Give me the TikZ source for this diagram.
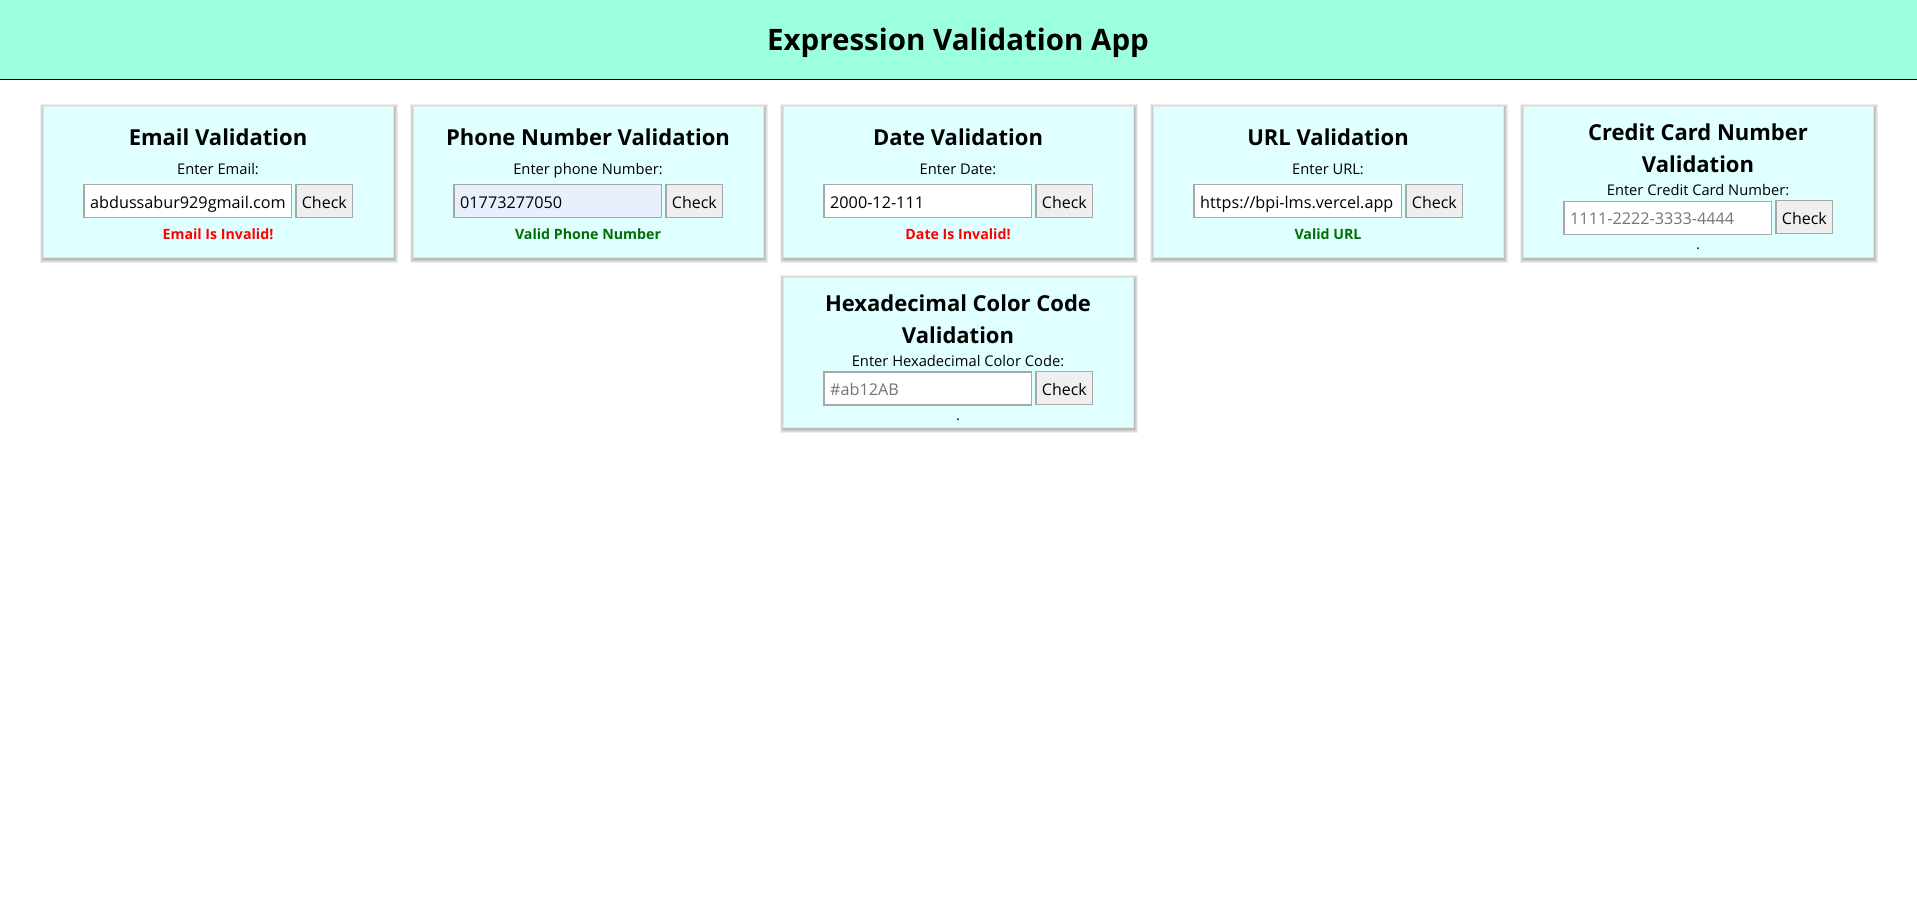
\documentclass[tikz,border=0pt]{standalone}
\usepackage{fontspec}
\setmainfont{Open Sans}
\definecolor{headbg}{RGB}{156,255,222}
\definecolor{cardbg}{RGB}{224,255,255}
\definecolor{fieldline}{RGB}{168,168,168}
\definecolor{btnbg}{RGB}{239,239,239}
\definecolor{autofill}{RGB}{232,240,254}
\definecolor{okgreen}{RGB}{0,110,0}
\definecolor{badred}{RGB}{255,0,0}
\definecolor{placeholder}{RGB}{117,117,117}
\tikzset{
  card/.style={rectangle, fill=cardbg, draw=black!10, line width=0.4pt, minimum width=350.6pt, inner sep=0pt, anchor=north},
  cardtitle/.style={anchor=base, inner sep=0pt, font=\fontsize{22}{26}\bfseries\selectfont},
  headtitle/.style={anchor=base, inner sep=0pt, font=\fontsize{29.5}{34}\bfseries\selectfont},
  fieldlabel/.style={anchor=base, inner sep=0pt, font=\fontsize{14.7}{18}\selectfont},
  inbox/.style={rectangle, fill=white, draw=fieldline, line width=1.2pt, minimum width=207.4pt, minimum height=33pt, inner sep=0pt, anchor=north west},
  intext/.style={anchor=base west, inner sep=0pt, font=\fontsize{16.2}{19}\selectfont},
  btnbox/.style={rectangle, fill=btnbg, draw=fieldline, line width=1.2pt, minimum width=56.7pt, minimum height=33pt, inner sep=0pt, text height=15pt, text depth=0pt, font=\fontsize{16}{19}\selectfont},
  result/.style={anchor=base, inner sep=0pt, font=\fontsize{14.2}{17}\bfseries\selectfont},
}
\newcommand\cardshadow[3]{%
  \foreach \s in {1,...,4}{%
    \fill[black,opacity=0.07] ({#1-175.3-\s+1},{#2-\s+2}) rectangle ({#1+175.3+\s+1},{#2+#3+\s+2});
  }%
}
\begin{document}
\begin{tikzpicture}[x=1pt,y=-1pt]
\useasboundingbox (0,0) rectangle (1917,904);
\fill[white] (0,0) rectangle (1917,904);
% header
\fill[headbg] (0,0) rectangle (1917,79.5);
\draw[black, line width=1.5pt] (0,79.5) -- (1917,79.5);
\node[headtitle] (apptitle) at (958,50.7) {Expression Validation App};

% ---------- Email card ----------
\cardshadow{218}{106}{150.7}
\node[card, minimum height=150.7pt] (emailcard) at (218,106) {};
\node[cardtitle] (emailtitle) at (218,145.5) {Email Validation};
\node[fieldlabel] (emaillabel) at (218,174.5) {Enter Email:};
\node[inbox] (emailin) at (83.3,184.3) {};
\node[intext] (emailval) at (90,208.3) {abdussabur929gmail.com};
\node[btnbox] (emailbtn) at (324.35,200.8) {Check};
\node[result, text=badred] (emailres) at (218,239.5) {Email Is Invalid!};

% ---------- Phone card ----------
\cardshadow{588}{106}{150.7}
\node[card, minimum height=150.7pt] (phonecard) at (588,106) {};
\node[cardtitle] (phonetitle) at (588,145.5) {Phone Number Validation};
\node[fieldlabel] (phonelabel) at (588,174.5) {Enter phone Number:};
\node[inbox, fill=autofill] (phonein) at (453.3,184.3) {};
\node[intext] (phoneval) at (460,208.3) {01773277050};
\node[btnbox] (phonebtn) at (694.35,200.8) {Check};
\node[result, text=okgreen] (phoneres) at (588,239.5) {Valid Phone Number};

% ---------- Date card ----------
\cardshadow{958}{106}{150.7}
\node[card, minimum height=150.7pt] (datecard) at (958,106) {};
\node[cardtitle] (datetitle) at (958,145.5) {Date Validation};
\node[fieldlabel] (datelabel) at (958,174.5) {Enter Date:};
\node[inbox] (datein) at (823.3,184.3) {};
\node[intext] (dateval) at (830,208.3) {2000-12-111};
\node[btnbox] (datebtn) at (1064.35,200.8) {Check};
\node[result, text=badred] (dateres) at (958,239.5) {Date Is Invalid!};

% ---------- URL card ----------
\cardshadow{1328}{106}{150.7}
\node[card, minimum height=150.7pt] (urlcard) at (1328,106) {};
\node[cardtitle] (urltitle) at (1328,145.5) {URL Validation};
\node[fieldlabel] (urllabel) at (1328,174.5) {Enter URL:};
\node[inbox] (urlin) at (1193.3,184.3) {};
\node[intext] (urlval) at (1200,208.3) {https://bpi-lms.vercel.app};
\node[btnbox] (urlbtn) at (1434.35,200.8) {Check};
\node[result, text=okgreen] (urlres) at (1328,239.5) {Valid URL};

% ---------- Credit card ----------
\cardshadow{1698}{106}{150.7}
\node[card, minimum height=150.7pt] (cccard) at (1698,106) {};
\node[cardtitle] (cctitlea) at (1698,140.5) {Credit Card Number};
\node[cardtitle] (cctitleb) at (1698,172.6) {Validation};
\node[fieldlabel] (cclabel) at (1698,196) {Enter Credit Card Number:};
\node[inbox] (ccin) at (1563.3,200.7) {};
\node[intext, text=placeholder] (ccval) at (1570,224.7) {1111-2222-3333-4444};
\node[btnbox] (ccbtn) at (1804.35,217.2) {Check};
\node[fieldlabel] (ccres) at (1698,250) {.};

% ---------- Hex card ----------
\cardshadow{958}{276.7}{150.7}
\node[card, minimum height=150.7pt] (hexcard) at (958,276.7) {};
\node[cardtitle] (hextitlea) at (958,311.2) {Hexadecimal Color Code};
\node[cardtitle] (hextitleb) at (958,343.3) {Validation};
\node[fieldlabel] (hexlabel) at (958,366.7) {Enter Hexadecimal Color Code:};
\node[inbox] (hexin) at (823.3,371.4) {};
\node[intext, text=placeholder] (hexval) at (830,395.4) {\#ab12AB};
\node[btnbox] (hexbtn) at (1064.35,387.9) {Check};
\node[fieldlabel] (hexres) at (958,420.7) {.};
\end{tikzpicture}
\end{document}
